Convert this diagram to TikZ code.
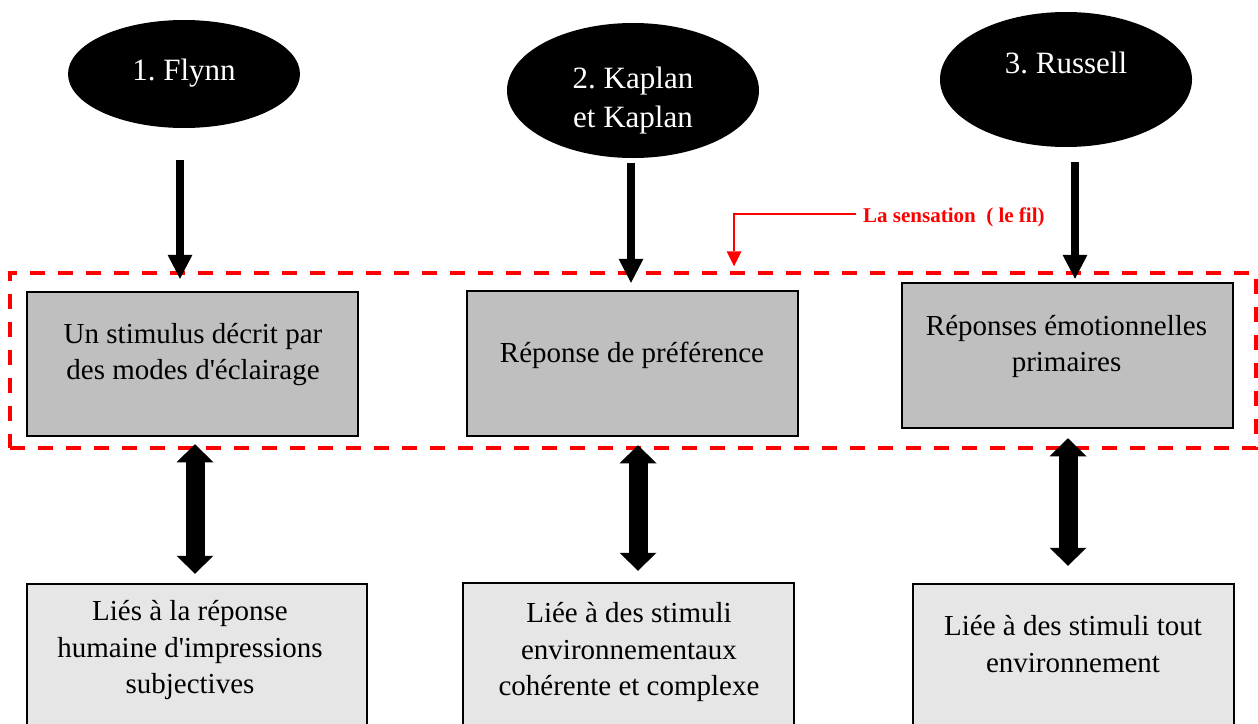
\documentclass[tikz,border=0pt]{standalone}
\usepackage{fontspec}
\setmainfont{Liberation Serif}
\usetikzlibrary{shapes.geometric,arrows.meta}
\frenchspacing
\newcommand\ellfont{\fontsize{31}{39}\selectfont}
\newcommand\boxfont{\fontsize{29}{36}\selectfont}
\newcommand\lowfont{\fontsize{29}{36.5}\selectfont}
\newcommand\redfont{\fontsize{21}{25}\selectfont\bfseries}
\definecolor{boxgray}{RGB}{191,191,191}
\definecolor{lightfill}{RGB}{230,230,230}
\definecolor{dashred}{RGB}{255,0,0}
\begin{document}
\begin{tikzpicture}[x=1pt,y=-1pt,
 ell/.style={ellipse,fill=black,draw=none,inner sep=0pt},
 elltext/.style={text=white,font=\ellfont,align=center,inner sep=0pt},
 graybox/.style={rectangle,draw=black,line width=2.5pt,fill=boxgray,inner sep=0pt},
 lowbox/.style={rectangle,draw=black,line width=2.5pt,fill=lightfill,inner sep=0pt},
 boxtext/.style={font=\boxfont,align=center,inner sep=0pt,text=black},
 lowtext/.style={font=\lowfont,align=center,inner sep=0pt,text=black},
 downarr/.style={line width=8pt,-{Triangle[width=25pt,length=24pt,line width=0pt]}},
 dblarr/.style={line width=19pt,{Triangle[width=37pt,length=18pt,line width=0pt]}-{Triangle[width=37pt,length=18pt,line width=0pt]}},
 redframe/.style={rectangle,draw=dashred,line width=3.5pt,dash pattern=on 15pt off 13pt,inner sep=0pt},
 redarr/.style={draw=dashred,line width=1.5pt,-{Triangle[width=15pt,length=15pt,line width=0pt]}}
]
\useasboundingbox (0,0) rectangle (1258,723);
\clip (0,0) rectangle (1258,723);

% red dashed frame
\node[redframe,minimum width=1246pt,minimum height=175pt] (frame) at (633,360.5) {};

% ellipses
\node[ell,minimum width=232pt,minimum height=108pt] (e1) at (184,74) {};
\node[ell,minimum width=252pt,minimum height=135pt] (e2) at (633,90.5) {};
\node[ell,minimum width=252pt,minimum height=135pt] (e3) at (1066,79.5) {};
\node[elltext,anchor=base] (t1) at (184,80) {1. Flynn};
\node[elltext] (t2) at (633,100.5) {2. Kaplan\\et Kaplan};
\node[elltext,anchor=base] (t3) at (1066,73) {3. Russell};

% gray boxes
\node[graybox,minimum width=331pt,minimum height=144pt] (b1) at (192.5,364) {};
\node[graybox,minimum width=331pt,minimum height=145pt] (b2) at (632.5,363.5) {};
\node[graybox,minimum width=331pt,minimum height=145pt] (b3) at (1067.5,355.5) {};
\node[boxtext] (bt1) at (193,354.5) {Un stimulus décrit par\\des modes d\textquotesingle éclairage};
\node[boxtext,anchor=base] (bt2) at (632,362) {Réponse de préférence};
\node[boxtext] (bt3) at (1066.5,346) {Réponses émotionnelles\\primaires};

% lower boxes
\node[lowbox,minimum width=340pt,minimum height=176pt] (c1) at (197,672) {};
\node[lowbox,minimum width=331pt,minimum height=176pt] (c2) at (628.5,671) {};
\node[lowbox,minimum width=321pt,minimum height=176pt] (c3) at (1073.5,672) {};
\node[lowtext] (ct1) at (190,650) {Liés à la réponse\\humaine d\textquotesingle impressions\\subjectives};
\node[lowtext] (ct2) at (629,652) {Liée à des stimuli\\environnementaux\\cohérente et complexe};
\node[lowtext] (ct3) at (1073,644) {Liée à des stimuli tout\\environnement};

% down arrows
\draw[downarr,shorten <=32pt,shorten >=12pt] ([xshift=-4pt]e1.south) -- ([xshift=-12.5pt]b1.north);
\draw[downarr,shorten <=5pt,shorten >=7pt] ([xshift=-2pt]e2.south) -- ([xshift=-1.5pt]b2.north);
\draw[downarr,shorten <=15pt,shorten >=3pt] ([xshift=9pt]e3.south) -- ([xshift=7.5pt]b3.north);

% double arrows
\draw[dblarr,shorten <=7pt,shorten >=9pt] ([xshift=2.5pt]b1.south) -- ([xshift=-2pt]c1.north);
\draw[dblarr,shorten <=8pt,shorten >=11pt] ([xshift=5.5pt]b2.south) -- ([xshift=9.5pt]c2.north);
\draw[dblarr,shorten <=9pt,shorten >=17pt] ([xshift=0.5pt]b3.south) -- ([xshift=-5.5pt]c3.north);

% red annotation
\node[font=\redfont,text=dashred,anchor=base west,inner sep=0pt] (lbl) at (863,222) {La sensation~ ( le fil)};
\draw[redarr,shorten >=5pt] ([xshift=-7pt,yshift=8pt]lbl.base west) -| ([xshift=101pt]frame.north);
\end{tikzpicture}
\end{document}
